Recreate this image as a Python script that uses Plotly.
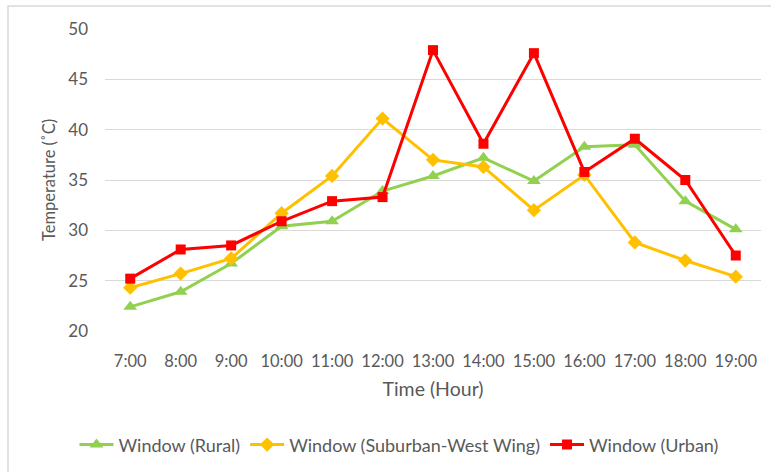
import plotly.graph_objects as go

hours = ["7:00", "8:00", "9:00", "10:00", "11:00", "12:00", "13:00",
         "14:00", "15:00", "16:00", "17:00", "18:00", "19:00"]
rural = [22.4, 23.9, 26.7, 30.4, 30.9, 33.9, 35.4, 37.2, 34.9, 38.3, 38.5, 32.9, 30.1]
suburban = [24.3, 25.7, 27.2, 31.7, 35.4, 41.1, 37.0, 36.3, 32.0, 35.5, 28.8, 27.0, 25.4]
urban = [25.2, 28.1, 28.5, 30.9, 32.9, 33.3, 47.9, 38.6, 47.6, 35.8, 39.1, 35.0, 27.5]

series = [
    ("Window (Rural)", rural, "#92D050", "triangle-up", 12),
    ("Window (Suburban-West Wing)", suburban, "#FFC000", "diamond", 11),
    ("Window (Urban)", urban, "#FF0000", "square", 10),
]

fig = go.Figure()
for name, vals, color, symbol, size in series:
    fig.add_trace(go.Scatter(
        x=hours, y=vals, name=name, mode="lines+markers",
        line=dict(color=color, width=3),
        marker=dict(symbol=symbol, size=size, color=color),
    ))

grey = "#595959"
fig.update_layout(
    width=771, height=472,
    margin=dict(l=105, r=10, t=29, b=141, autoexpand=False),
    paper_bgcolor="white", plot_bgcolor="white",
    font=dict(family="Lato, Open Sans, sans-serif", color=grey, size=16),
    xaxis=dict(
        type="category", range=[-0.5, 12.5], showgrid=False, showline=False,
        ticks="", ticklabelstandoff=18, automargin=False,
        tickfont=dict(size=16.5, color=grey),
        title=dict(text="Time (Hour)", font=dict(size=19.5, color=grey), standoff=12),
    ),
    yaxis=dict(
        range=[20, 50], dtick=5, showgrid=True, gridcolor="#D9D9D9", gridwidth=1,
        zeroline=False, showline=False, ticks="", ticklabelstandoff=16,
        automargin=False,
        tickfont=dict(size=17, color=grey),
        title=dict(text="Temperature (˚C)", font=dict(size=16.5, color=grey), standoff=8),
    ),
    legend=dict(
        orientation="h", x=(399 - 105) / 656, xanchor="center",
        y=-0.377, yanchor="middle", itemwidth=34,
        font=dict(size=18, color=grey), traceorder="normal",
    ),
    showlegend=True,
)

# Light frame around the whole chart (top and left edges visible)
fig.add_shape(type="rect", xref="paper", yref="paper",
              x0=-97 / 656, x1=1 + 40 / 656, y0=-170 / 302, y1=1 + 23 / 302,
              line=dict(color="#D9D9D9", width=1.5), fillcolor="rgba(0,0,0,0)",
              layer="below")

fig.write_html("out.html")
